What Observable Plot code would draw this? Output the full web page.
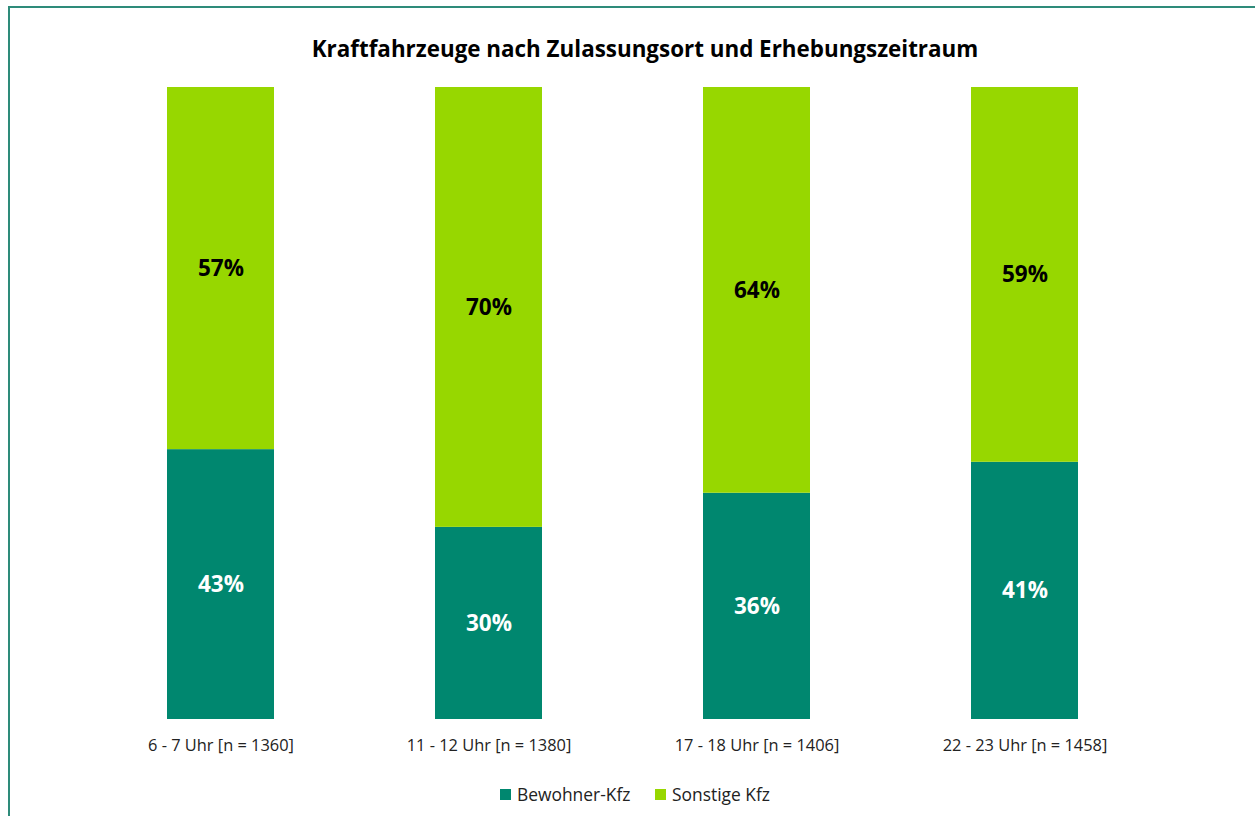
<!DOCTYPE html>
<html><head><meta charset="utf-8">
<script src="https://cdn.jsdelivr.net/npm/d3@7"></script>
<script src="https://cdn.jsdelivr.net/npm/@observablehq/plot@0.6"></script>
<style>
body{margin:0;background:#fff;font-family:"Open Sans","Noto Sans",sans-serif;}
#frame{position:absolute;left:8px;top:6px;width:1400px;height:1000px;border-left:2px solid #2e8b7a;border-top:2px solid #2e8b7a;}
#title{position:absolute;left:0;top:34px;width:1290px;text-align:center;font-weight:bold;font-size:22.4px;line-height:30px;color:#000;}
#chart{position:absolute;left:0;top:0;}
#legend{position:absolute;top:782px;left:0;width:1255px;font-size:17.4px;line-height:24px;color:#222;}
.sw{position:absolute;width:11px;height:11px;top:7px}
.lt{position:absolute;top:0;}
</style></head><body>
<div id="frame"></div>
<div id="chart"></div>
<div id="title">Kraftfahrzeuge nach Zulassungsort und Erhebungszeitraum</div>
<div id="legend"></div>
<script>
const categories = ["6 - 7 Uhr [n = 1360]", "11 - 12 Uhr [n = 1380]", "17 - 18 Uhr [n = 1406]", "22 - 23 Uhr [n = 1458]"];
const seriesNames = ["Bewohner-Kfz", "Sonstige Kfz"];
const bewohner = [42.7, 30.4, 35.8, 40.7];
const sonstige = [57.3, 69.6, 64.2, 59.3];
const colors = ["#00876f", "#97d700"];
const textColors = ["#ffffff", "#000000"];

const data = [];
categories.forEach((c, i) => {
  data.push({cat: c, series: seriesNames[0], value: bewohner[i], tc: textColors[0]});
  data.push({cat: c, series: seriesNames[1], value: sonstige[i], tc: textColors[1]});
});

const chart = Plot.plot({
  width: 1255, height: 760,
  marginLeft: 6.2, marginRight: 16, marginTop: 87, marginBottom: 41,
  style: {fontFamily: "'Open Sans', 'Noto Sans', sans-serif", background: "transparent"},
  x: {domain: categories, padding: 0.6, label: null},
  y: {domain: [0, 100], axis: null},
  color: {domain: seriesNames, range: colors},
  marks: [
    Plot.barY(data, Plot.stackY({x: "cat", y: "value", fill: "series", order: seriesNames})),
    Plot.text(data, Plot.stackY({x: "cat", y: "value", z: "series", order: seriesNames,
      text: d => Math.round(d.value) + "%", fill: "tc", fontSize: 22.5, fontWeight: "bold"})),
    Plot.axisX({tickSize: 0, tickPadding: 20, fontSize: 16.4, fill: "#222", label: null})
  ]
});
document.getElementById("chart").appendChild(chart);

const legendItems = [{x: 500, tx: 517}, {x: 655, tx: 672}];
const lg = document.getElementById("legend");
seriesNames.forEach((s, i) => {
  const sw = document.createElement("div");
  sw.className = "sw"; sw.style.left = legendItems[i].x + "px"; sw.style.background = colors[i];
  const t = document.createElement("div");
  t.className = "lt"; t.style.left = legendItems[i].tx + "px"; t.textContent = s;
  lg.appendChild(sw); lg.appendChild(t);
});
</script>
</body></html>
